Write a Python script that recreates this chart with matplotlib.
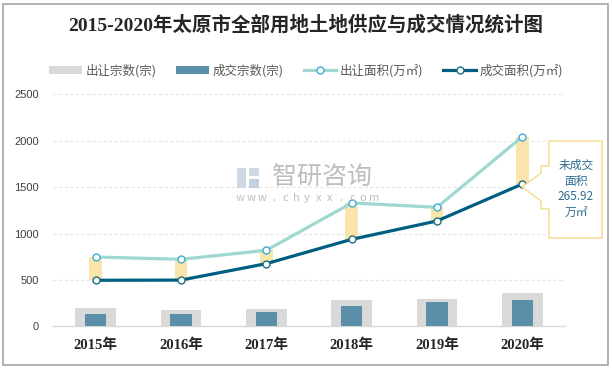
import matplotlib
matplotlib.use("Agg")
import matplotlib.pyplot as plt
from matplotlib.patches import Polygon, Rectangle
import numpy as np

plt.rcParams['font.family'] = ['Noto Sans CJK SC', 'DejaVu Sans']

years = ['2015年', '2016年', '2017年', '2018年', '2019年', '2020年']
supply_count = [195, 173, 184, 281, 293, 358]      # 出让宗数(宗)
deal_count = [133, 133, 151, 216, 259, 281]        # 成交宗数(宗)
supply_area = [747, 722, 819, 1329, 1282, 2043]    # 出让面积(万㎡)
deal_area = [496, 498, 675, 937, 1135, 1533]       # 成交面积(万㎡)
yticks = [0, 500, 1000, 1500, 2000, 2500]
note_text = '未成交\n面积\n265.92\n万㎡'

W, H = 612, 369
fig = plt.figure(figsize=(W / 100, H / 100), dpi=100)
fig.patch.set_facecolor('white')

# outer frame
fig.add_artist(Rectangle((3 / W, 4 / H), 605 / W, 361 / H, transform=fig.transFigure,
                         fill=False, edgecolor='#A6A6A6', linewidth=1.2))

ax = fig.add_axes([53 / W, 1 - 326.3 / H, 512 / W, 232 / H])
x = np.arange(len(years))

b1 = ax.bar(x, supply_count, width=0.48, color='#D9D9D9', zorder=2, label='出让宗数(宗)')
b2 = ax.bar(x, deal_count, width=0.25, color='#5B8FA8', zorder=3, label='成交宗数(宗)')

# up/down bars between lines
for xi, s, d in zip(x, supply_area, deal_area):
    ax.add_patch(Rectangle((xi - 0.075, d), 0.15, s - d, facecolor='#F9E4AB',
                           edgecolor='none', zorder=4))

l1, = ax.plot(x, supply_area, color='#9FD7D1', linewidth=2.3, marker='o', markersize=5,
              markerfacecolor='white', markeredgecolor='#3AAED8', markeredgewidth=1.0,
              zorder=5, label='出让面积(万㎡)')
l2, = ax.plot(x, deal_area, color='#005F80', linewidth=2.3, marker='o', markersize=5,
              markerfacecolor='white', markeredgecolor='#1D6F83', markeredgewidth=1.0,
              zorder=6, label='成交面积(万㎡)')

ax.set_xlim(-0.5, len(years) - 0.5)
ax.set_ylim(0, 2500)
ax.set_yticks(yticks)
ax.set_yticklabels([str(v) for v in yticks], fontsize=8, color='#404040',
                   family=['Liberation Sans', 'DejaVu Sans'])
ax.set_xticks(x)
ax.set_xticklabels(years, fontsize=10.5, fontweight='bold', color='#262626',
                   family=['Liberation Serif', 'Noto Sans CJK SC'])
ax.tick_params(axis='both', length=0)
ax.tick_params(axis='x', pad=9)
ax.tick_params(axis='y', pad=10)
for sp in ['top', 'right', 'left']:
    ax.spines[sp].set_visible(False)
ax.spines['bottom'].set_color('#D9D9D9')
ax.spines['bottom'].set_linewidth(1.0)
ax.set_axisbelow(True)
ax.yaxis.grid(True, color='#E6E6E6', linestyle=(0, (3, 2)), linewidth=0.8)
for gl in ax.yaxis.get_gridlines()[:1]:
    gl.set_visible(False)

# title
fig.text(0.5, 1 - 25 / H, '2015-2020年太原市全部用地土地供应与成交情况统计图',
         ha='center', va='center', fontsize=14, fontweight='bold', color='#262626',
         family=['Liberation Serif', 'Noto Sans CJK SC'])

# legend
leg = fig.legend([b1, b2, l1, l2], [b1.get_label(), b2.get_label(), l1.get_label(), l2.get_label()],
                 loc='center', bbox_to_anchor=(0.5, 1 - 70.5 / H),
                 ncol=4, frameon=False, fontsize=9, handlelength=2.6,
                 handleheight=0.6, columnspacing=1.6, handletextpad=0.3,
                 labelcolor='#595959')

# watermark
fig.add_artist(Rectangle((237 / W, 1 - 188 / H), 9 / W, 20 / H, transform=fig.transFigure,
                         facecolor='#C3D0DE', edgecolor='none', alpha=0.8))
fig.add_artist(Rectangle((249 / W, 1 - 188 / H), 10 / W, 9 / H, transform=fig.transFigure,
                         facecolor='#AFC6DB', edgecolor='none', alpha=0.8))
fig.add_artist(Rectangle((249 / W, 1 - 176 / H), 10 / W, 8 / H, transform=fig.transFigure,
                         facecolor='#C3D0DE', edgecolor='none', alpha=0.8))
fig.text(322 / W, 1 - 177 / H, '智研咨询', ha='center', va='center', fontsize=18,
         color='#ADADAD', alpha=0.8)
wm = 'www.chyxx.com'
for i, ch in enumerate(wm):
    fig.text((240 + i * 11.2) / W, 1 - 198 / H, ch, ha='center', va='center',
             fontsize=8, color='#ADADAD', alpha=0.8)

# callout box
pts = [(549, 141), (602, 141), (602, 238), (549, 238), (549, 209), (541, 209),
       (541, 201), (522, 187), (541, 173), (541, 166), (549, 166)]
poly = Polygon([(px / W, 1 - py / H) for px, py in pts], closed=True,
               transform=fig.transFigure, facecolor='white', edgecolor='#F8D98C',
               linewidth=1.0, zorder=10)
fig.add_artist(poly)
fig.text(576 / W, 1 - 189 / H, note_text, ha='center', va='center', fontsize=8.5,
         color='#2F6E93', linespacing=1.25, zorder=11)

fig.savefig('out.png', dpi=100, facecolor='white')
